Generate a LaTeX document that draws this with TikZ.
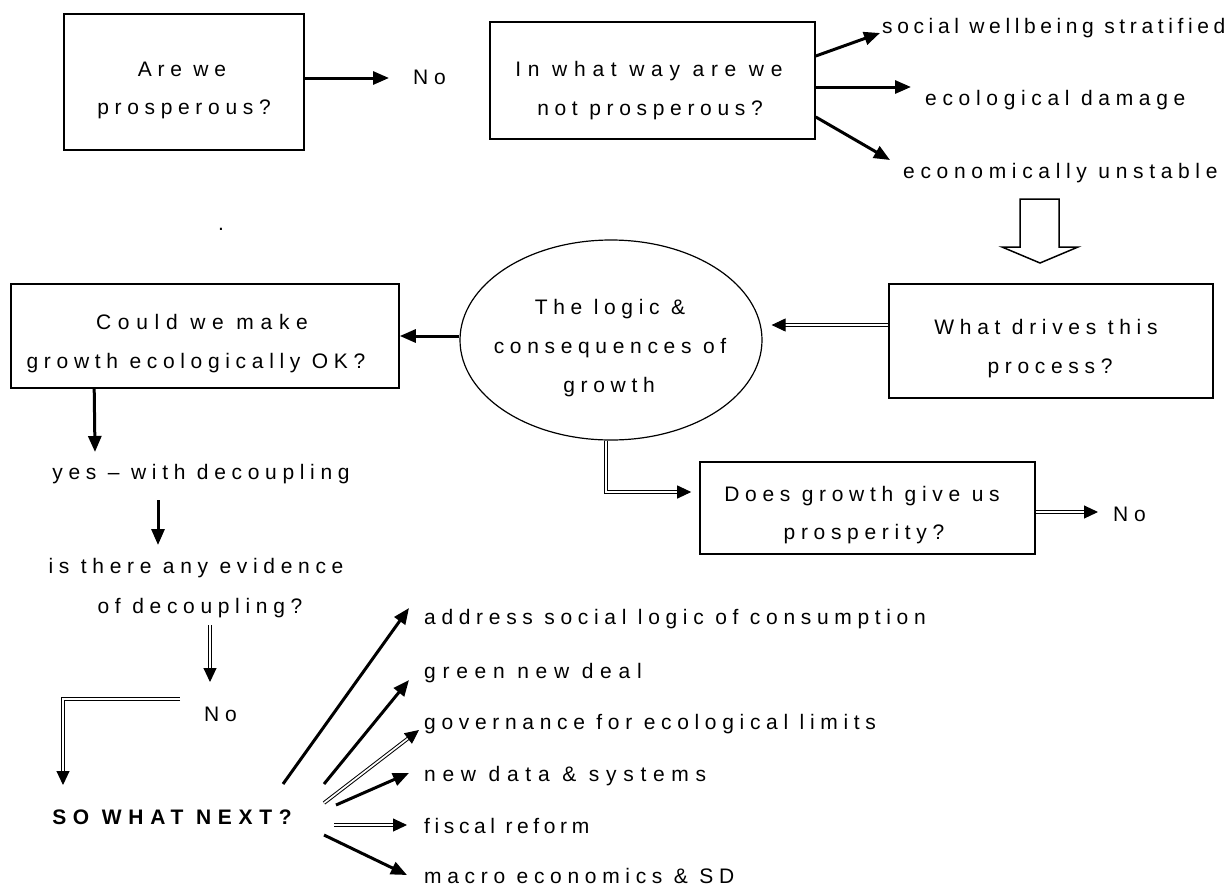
\documentclass[tikz,border=0pt]{standalone}
\usepackage{fontspec}
\newfontfamily\spaced[LetterSpace=27]{Liberation Sans}
\newfontfamily\spacedW[LetterSpace=32]{Liberation Sans}
\newfontfamily\spacedN[LetterSpace=22]{Liberation Sans}
\usetikzlibrary{arrows.meta,calc,shapes.geometric}
\begin{document}
\begin{tikzpicture}[x=1pt,y=-1pt,
  box/.style={draw, line width=1.6pt, inner sep=0pt},
  txt/.style={font=\spaced\fontsize{21}{24}\selectfont, inner sep=0pt, text height=12pt, text depth=0pt},
  wtxt/.style={txt, font=\spacedW\fontsize{21}{24}\selectfont},
  ntxt/.style={txt, font=\spacedN\fontsize{21}{24}\selectfont},
  arr/.style={line width=3pt, -{Triangle[length=16pt,width=13pt]}},
  darr/.style={double, line width=1pt, double distance=1.7pt, -{Triangle[length=14pt,width=13pt]}},
]
\useasboundingbox (0,0) rectangle (1231,887);

% boxes
\node[box, minimum width=240pt, minimum height=136pt] (box1) at (184,82) {};
\node[box, minimum width=325pt, minimum height=117pt] (box2) at (652.5,80.5) {};
\node[box, minimum width=388pt, minimum height=104pt] (box3) at (205,336) {};
\node[box, minimum width=324pt, minimum height=114pt] (wd) at (1051,341) {};
\node[box, minimum width=335pt, minimum height=92pt] (dg) at (867.5,508) {};
\node[draw, ellipse, line width=1.2pt, minimum width=302pt, minimum height=200pt, inner sep=0pt] (el) at (611,340) {};

% box texts
\node[txt] (t1a) at (182,70) {Are we};
\node[txt] (t1b) at (184,108) {prosperous?};
\node[wtxt] (t2a) at (649,70) {In what way are we};
\node[txt] (t2b) at (650,109) {not prosperous?};
\node[wtxt] (t3a) at (202,323) {Could we make};
\node[txt] (t3b) at (196,362) {growth ecologically OK?};
\node[txt] (t4a) at (1046,328) {What drives this};
\node[txt] (t4b) at (1050,367) {process?};
\node[txt] (t5a) at (862,495) {Does growth give us};
\node[txt] (t5b) at (864,533) {prosperity?};
\node[txt] (t6a) at (610,308) {The logic \&};
\node[txt] (t6b) at (610,347) {consequences of};
\node[txt] (t6c) at (609,386) {growth};

% free texts
\node[txt, anchor=west] (n1) at (413,78) {No};
\node[ntxt, anchor=west] (s1) at (882,27) {social wellbeing stratified};
\node[txt, anchor=west] (s2) at (925,99) {ecological damage};
\node[txt, anchor=west] (s3) at (903,172) {economically unstable};
\node[txt] (dot) at (221,224) {.};
\node[txt] (yes) at (201,473) {yes – with decoupling};
\node[txt] (ev1) at (196,567) {is there any evidence};
\node[txt] (ev2) at (200,607) {of decoupling?};
\node[txt, anchor=west] (no2) at (204,715) {No};
\node[txt, font=\spacedW\fontsize{21}{24}\selectfont\bfseries] (sw) at (172,818) {SO WHAT NEXT?};
\node[txt, anchor=west] (n3) at (1113,515) {No};
\node[txt, anchor=west] (f1) at (424,618) {address social logic of consumption};
\node[wtxt, anchor=west] (f2) at (424,672) {green new deal};
\node[txt, anchor=west] (f3) at (424,723) {governance for ecological limits};
\node[wtxt, anchor=west] (f4) at (424,775) {new data \& systems};
\node[ntxt, anchor=west] (f5) at (424,827) {fiscal reform};
\node[txt, anchor=west] (f6) at (424,877) {macro economics \& SD};

% connectors
\draw[arr] (box1.east |- n1.west) -- ($(n1.west)+(-24,0)$);
\draw[arr] ($(box2.east)+(0,-24.5)$) -- ($(s1.west)+(-2,6)$);
\draw[arr] ($(box2.east)+(0,6.5)$) -- ($(s2.west)+(-14,-12)$);
\draw[arr] ($(box2.east)+(0,36.5)$) -- ($(s3.west)+(-13,-12)$);

% hollow block arrow
\draw[line width=1.5pt, line join=miter] (1020,199) -- (1059,199) -- (1059,247) -- (1078,247)
  -- (1040,263) -- (1002,247) -- (1020,247) -- cycle;

\draw[darr] ($(wd.west)+(0,-16)$) -- ($(el.east)+(9,-15)$);
\draw[arr] ($(el.west)+(0,-4)$) -- (box3.east);
\draw[arr] ($(box3.south west)+(84,0)$) -- ($(yes.center)+(-106,-21)$);
\draw[arr] ($(yes.center)+(-43,27)$) -- ($(ev1.center)+(-38,-22)$);
\draw[darr] ($(ev2.center)+(10,18)$) -- ($(no2.west)+(6,-33)$);
\draw[darr] ($(no2.west)+(-24,-16)$) -- ($(sw.center)+(-109,-119)$) -- ($(sw.center)+(-109,-33)$);
\draw[darr] ($(el.south)+(-5,0)$) |- ($(dg.west)+(-8,-16)$);
\draw[darr] ($(dg.east)+(0,4)$) -- ($(n3.west)+(-15,-3)$);

\draw[arr] ($(sw.center)+(111,-34)$) -- ($(f1.west)+(-15,-10)$);
\draw[arr] ($(sw.center)+(152,-34)$) -- ($(f2.west)+(-15,8)$);
\draw[darr] ($(sw.center)+(152,-15)$) -- ($(f3.west)+(-5,7)$);
\draw[arr] ($(sw.center)+(164,-13)$) -- ($(f4.west)+(-15,-2)$);
\draw[darr] ($(sw.center)+(162,7)$) -- ($(f5.west)+(-17,-2)$);
\draw[arr] ($(sw.center)+(152,17)$) -- ($(f6.west)+(-17,-2)$);
\end{tikzpicture}
\end{document}
